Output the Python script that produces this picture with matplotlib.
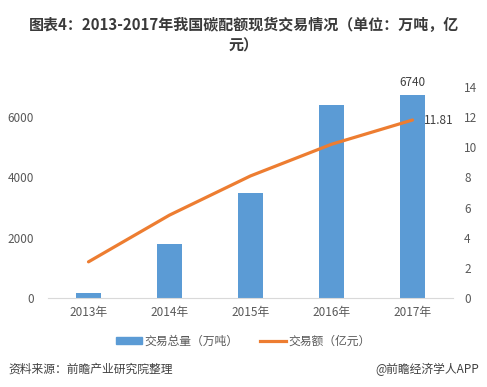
import matplotlib
matplotlib.use("Agg")
import matplotlib.pyplot as plt
from matplotlib.lines import Line2D
from matplotlib.patches import Patch

plt.rcParams['font.family'] = ['Noto Sans CJK SC', 'DejaVu Sans']

years = ['2013年', '2014年', '2015年', '2016年', '2017年']
volume = [170, 1800, 3500, 6400, 6740]       # 万吨
amount = [2.4, 5.5, 8.1, 10.2, 11.81]         # 亿元
left_ticks = [0, 2000, 4000, 6000]
right_ticks = [0, 2, 4, 6, 8, 10, 12, 14]

W, H = 487, 387
fig = plt.figure(figsize=(W / 100, H / 100), dpi=100)
ax = fig.add_axes([48 / W, 1 - 298 / H, 405 / W, 211 / H])
ax2 = ax.twinx()

x = list(range(len(years)))
ax.bar(x, volume, width=0.31, color='#5B9BD5', zorder=2)
ax2.plot(x, amount, color='#ED7D31', lw=2.3, solid_capstyle='round', zorder=3)

ax.set_xlim(-0.5, 4.5)
ax.set_ylim(0, 7000)
ax2.set_ylim(0, 14)
ax.set_yticks(left_ticks)
ax2.set_yticks(right_ticks)
ax.set_xticks(x)
ax.set_xticklabels(years)

for a in (ax, ax2):
    for s in a.spines.values():
        s.set_visible(False)
ax.spines['bottom'].set_visible(True)
ax.spines['bottom'].set_color('#D9D9D9')
ax.tick_params(axis='x', length=0, pad=6, labelsize=8.5, colors='#595959')
ax.tick_params(axis='y', length=0, pad=10, labelsize=8.5, colors='#595959')
ax2.tick_params(axis='y', length=0, pad=8, labelsize=8.5, colors='#595959')

ax.annotate(f'{volume[-1]}', (x[-1], volume[-1]), xytext=(0, 4), textcoords='offset points',
            ha='center', va='bottom', fontsize=8.5, color='#404040')
ax2.annotate(f'{amount[-1]}', (x[-1], amount[-1]), xytext=(8, 0), textcoords='offset points',
             ha='left', va='center', fontsize=8.5, color='#404040')

fig.text(0.5, 1 - 25 / H, '图表4：2013-2017年我国碳配额现货交易情况（单位：万吨，亿',
         ha='center', va='center', fontsize=10.8, fontweight='bold', color='#3a3a3a')
fig.text(0.5, 1 - 45 / H, '元）', ha='center', va='center', fontsize=10.8,
         fontweight='bold', color='#3a3a3a')

handles = [Patch(color='#5B9BD5'), Line2D([0], [0], color='#ED7D31', lw=2.3)]
fig.legend(handles, ['交易总量（万吨）', '交易额（亿元）'], loc='center',
           bbox_to_anchor=(0.5, 1 - 341 / H), ncol=2, frameon=False, fontsize=8.5,
           labelcolor='#595959', handlelength=2.2, handleheight=0.5, handletextpad=0.2,
           columnspacing=1.8)

fig.text(8 / W, 1 - 369 / H, '资料来源：前瞻产业研究院整理', ha='left', va='center',
         fontsize=8.5, style='italic', color='#404040')
fig.text(479 / W, 1 - 369 / H, '@前瞻经济学人APP', ha='right', va='center',
         fontsize=8.5, color='#404040')

fig.savefig('out.png', dpi=100)
